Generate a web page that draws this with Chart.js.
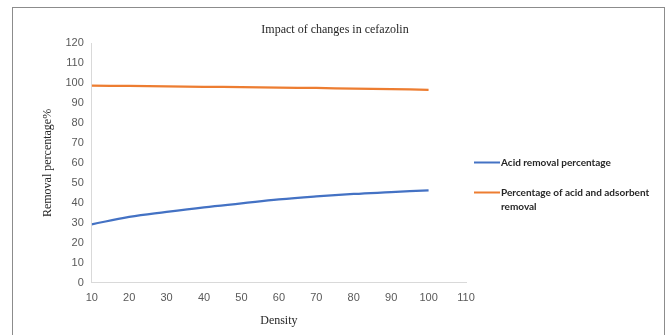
<!DOCTYPE html>
<html>
<head>
<meta charset="utf-8">
<script src="https://cdn.jsdelivr.net/npm/chart.js@4"></script>
<style>
  html, body { margin: 0; padding: 0; background: #fff; }
  #wrap { width: 667px; height: 335px; position: relative; }
</style>
</head>
<body>
<div id="wrap"><canvas id="c" width="667" height="335"></canvas></div>
<script>
// Density values (x) and removal percentages for each series
const density = [10, 20, 30, 40, 50, 60, 70, 80, 90, 100];
const acidRemoval = [29.3, 33.0, 35.5, 37.8, 39.8, 41.8, 43.3, 44.5, 45.4, 46.3];
const acidAdsorbentRemoval = [98.7, 98.5, 98.3, 98.1, 97.9, 97.7, 97.5, 97.2, 96.9, 96.6];
const xTicks = [10, 20, 30, 40, 50, 60, 70, 80, 90, 100, 110];
const chartTitle = 'Impact of changes in cefazolin';
const seriesNames = ['Acid removal percentage', ['Percentage of acid and adsorbent', 'removal']];
const seriesColors = ['#4472C4', '#ED7D31'];

const toPoints = (ys) => density.map((x, i) => ({ x: x, y: ys[i] }));

// Outer frame, centred title and a legend drawn to the right of the plot
const decorPlugin = {
  id: 'frameTitleLegend',
  afterDraw(chart) {
    const ctx = chart.ctx;
    ctx.save();
    ctx.strokeStyle = '#8c8c8c';
    ctx.lineWidth = 1;
    ctx.strokeRect(12.5, 7.5, 652, 340);

    ctx.font = '12px "Liberation Serif", "Times New Roman", serif';
    ctx.fillStyle = '#262626';
    ctx.textAlign = 'center';
    ctx.textBaseline = 'middle';
    ctx.fillText(chartTitle, 335, 30);

    const items = [
      { y: 162.5, color: seriesColors[0], lines: [seriesNames[0]] },
      { y: 192.5, color: seriesColors[1], lines: seriesNames[1] }
    ];
    ctx.font = 'bold 10px Lato, "Liberation Sans", sans-serif';
    ctx.fillStyle = '#262626';
    ctx.textAlign = 'left';
    items.forEach(it => {
      ctx.strokeStyle = it.color;
      ctx.lineWidth = 2;
      ctx.beginPath();
      ctx.moveTo(474, it.y);
      ctx.lineTo(500, it.y);
      ctx.stroke();
      it.lines.forEach((t, k) => ctx.fillText(t, 501, it.y + k * 14));
    });
    ctx.restore();
  }
};

new Chart(document.getElementById('c'), {
  type: 'line',
  data: {
    datasets: [
      {
        label: 'Acid removal percentage',
        data: toPoints(acidRemoval),
        borderColor: seriesColors[0],
        backgroundColor: seriesColors[0],
        borderWidth: 2.25,
        pointRadius: 0,
        tension: 0.4
      },
      {
        label: 'Percentage of acid and adsorbent removal',
        data: toPoints(acidAdsorbentRemoval),
        borderColor: seriesColors[1],
        backgroundColor: seriesColors[1],
        borderWidth: 2.25,
        pointRadius: 0,
        tension: 0.4
      }
    ]
  },
  options: {
    responsive: false,
    animation: false,
    devicePixelRatio: 1,
    layout: { padding: { left: 41, right: 201, top: 43, bottom: 6.5 } },
    plugins: {
      legend: { display: false },
      tooltip: { enabled: false },
      title: { display: false }
    },
    scales: {
      x: {
        type: 'linear',
        min: 10,
        max: 110,
        afterBuildTicks: (axis) => { axis.ticks = xTicks.map(v => ({ value: v })); },
        ticks: {
          color: '#595959',
          font: { family: '"Liberation Sans", Arial, sans-serif', size: 11 },
          padding: 8.5,
          maxRotation: 0
        },
        grid: { display: false, drawTicks: false },
        border: { display: true, color: '#d9d9d9', width: 1 },
        title: {
          display: true,
          text: 'Density',
          color: '#262626',
          font: { family: '"Liberation Serif", "Times New Roman", serif', size: 12 },
          padding: { top: 1, bottom: 0 }
        }
      },
      y: {
        min: 0,
        max: 120,
        ticks: {
          stepSize: 10,
          color: '#595959',
          font: { family: '"Liberation Sans", Arial, sans-serif', size: 11 },
          padding: 8
        },
        grid: { display: false, drawTicks: false },
        border: { display: true, color: '#d9d9d9', width: 1 },
        title: {
          display: true,
          text: 'Removal percentage%',
          color: '#262626',
          font: { family: '"Liberation Serif", "Times New Roman", serif', size: 12 },
          padding: { top: 0, bottom: 2 }
        }
      }
    }
  },
  plugins: [decorPlugin]
});
</script>
</body>
</html>
